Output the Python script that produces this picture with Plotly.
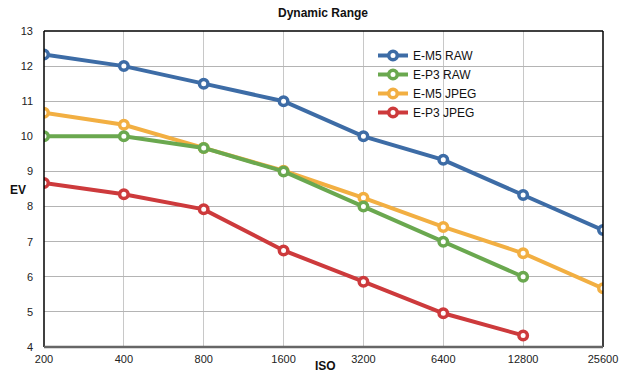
import plotly.graph_objects as go
import math

iso = [200, 400, 800, 1600, 3200, 6400, 12800, 25600]
iso_labels = [str(v) for v in iso]
ev_ticks = list(range(4, 14))

em5_raw = [12.33, 12.0, 11.5, 11.0, 10.0, 9.33, 8.33, 7.33]
ep3_raw = [10.0, 10.0, 9.67, 9.0, 8.0, 7.0, 6.0]
em5_jpeg = [10.67, 10.33, 9.67, 9.02, 8.25, 7.42, 6.67, 5.67]
ep3_jpeg = [8.67, 8.35, 7.92, 6.75, 5.86, 4.96, 4.33]

series = [
    ("E-M5 RAW", em5_raw, "#3D6CA6", 1),
    ("E-M5 JPEG", em5_jpeg, "#F2AF42", 3),
    ("E-P3 RAW", ep3_raw, "#6AA84F", 2),
    ("E-P3 JPEG", ep3_jpeg, "#CD3A3C", 4),
]

fig = go.Figure()
for name, vals, col, rank in series:
    fig.add_trace(go.Scatter(
        x=iso[:len(vals)], y=vals, name=name, mode="lines+markers",
        line=dict(color=col, width=4),
        marker=dict(symbol="circle", size=8.5, color="white",
                    line=dict(color=col, width=3.5)),
        legendrank=rank,
    ))

font = "Liberation Sans, Arial, Helvetica, sans-serif"
fig.update_layout(
    width=642, height=375,
    margin=dict(l=44, r=39, t=31, b=28, autoexpand=False),
    paper_bgcolor="white", plot_bgcolor="white",
    font=dict(family=font, size=11, color="#222"),
    showlegend=True,
    legend=dict(x=(373 - 44) / 559, y=(347 - 41) / 316, xanchor="left", yanchor="top",
                bgcolor="rgba(0,0,0,0)", font=dict(size=12, color="#111"),
                tracegroupgap=0),
    xaxis=dict(type="log", range=[math.log10(200), math.log10(25600)],
               tickvals=iso, ticktext=iso_labels, automargin=False,
               showgrid=True, gridcolor="#C8C8C8", gridwidth=1,
               showline=False, zeroline=False, ticks="",
               ticklabelstandoff=4),
    yaxis=dict(range=[4, 13], tickvals=ev_ticks, showgrid=True, automargin=False,
               gridcolor="#B4B4B4", gridwidth=1, zeroline=False,
               showline=False, ticks="", ticklabelstandoff=10),
    annotations=[
        dict(text="<b>Dynamic Range</b>", xref="paper", yref="paper",
             x=(323 - 44) / 559, y=(347 - 13) / 316, showarrow=False,
             font=dict(size=12, color="#111"), xanchor="center", yanchor="middle"),
        dict(text="<b>EV</b>", xref="paper", yref="paper",
             x=(18 - 44) / 559, y=(347 - 190) / 316, showarrow=False,
             font=dict(size=12, color="#111"), xanchor="center", yanchor="middle"),
        dict(text="<b>ISO</b>", xref="paper", yref="paper",
             x=(325 - 44) / 559, y=(347 - 366) / 316, showarrow=False,
             font=dict(size=12, color="#111"), xanchor="center", yanchor="middle"),
    ],
    shapes=[
        dict(type="line", xref="paper", yref="paper", x0=0, x1=0, y0=0, y1=1,
             line=dict(color="black", width=1.5), layer="above"),
        dict(type="line", xref="paper", yref="paper", x0=0, x1=1, y0=1, y1=1,
             line=dict(color="black", width=1.5), layer="above"),
        dict(type="line", xref="paper", yref="paper", x0=1, x1=1, y0=0, y1=1,
             line=dict(color="black", width=1.5), layer="above"),
        dict(type="line", xref="paper", yref="paper", x0=0, x1=1, y0=0, y1=0,
             line=dict(color="#666", width=2.5), layer="above"),
    ],
)

fig.write_html("out.html", config={"displayModeBar": False},
               post_script="document.body.style.margin='0px';document.body.style.overflow='hidden';")
